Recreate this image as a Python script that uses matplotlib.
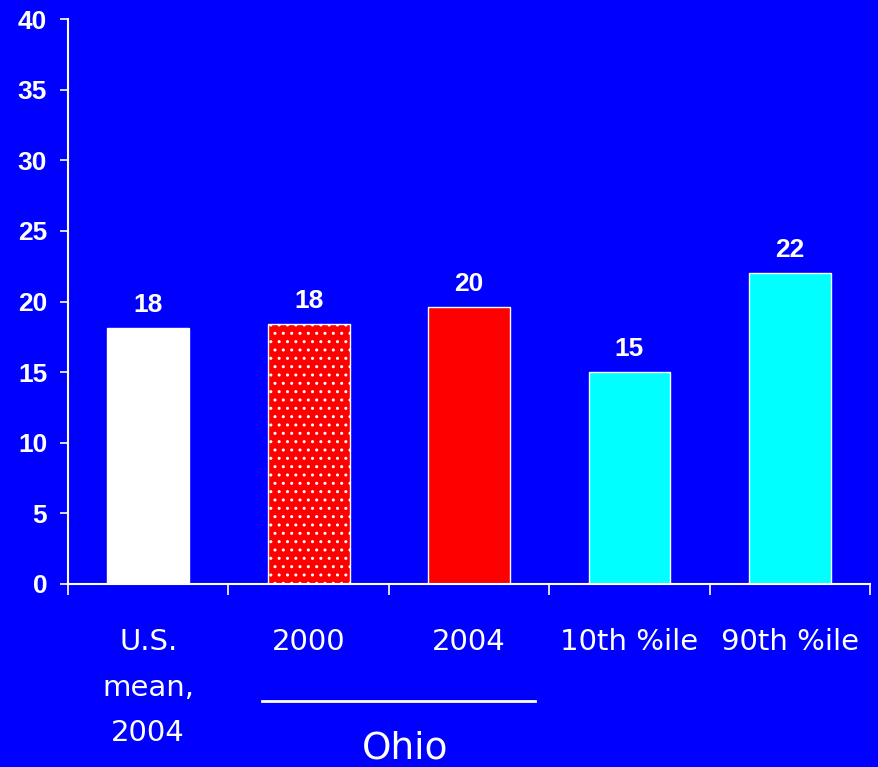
import matplotlib
matplotlib.use("Agg")
import matplotlib.pyplot as plt
from matplotlib.transforms import blended_transform_factory

# Data
categories = ["U.S.\nmean,\n2004", "2000", "2004", "10th %ile", "90th %ile"]
values = [18.1, 18.4, 19.6, 15.0, 22.0]
bar_colors = ["#FFFFFF", "#FF0000", "#FF0000", "#00FFFF", "#00FFFF"]
bar_hatches = [None, "..", None, None, None]
y_ticks = [0, 5, 10, 15, 20, 25, 30, 35, 40]
group_label = "Ohio"

BG = "#0000FF"

fig = plt.figure(figsize=(8.79, 7.67), dpi=100, facecolor=BG)
ax = fig.add_axes([0.0774, 0.2386, 0.9124, 0.7366], facecolor=BG)

x = list(range(len(categories)))
bars = ax.bar(x, values, width=0.51, color=bar_colors, edgecolor="white",
              linewidth=1.0, zorder=2)
for b, h in zip(bars, bar_hatches):
    if h:
        b.set_hatch(h)

# value labels above bars
for xi, v in zip(x, values):
    ax.annotate(f"{v:.0f}", xy=(xi, v), xytext=(0, 11.5), textcoords="offset points",
                ha="center", va="baseline", color="white", fontsize=19,
                fontweight="bold", family="Liberation Sans")

ax.set_xlim(-0.5, len(categories) - 0.5)
ax.set_ylim(0, 40)
ax.set_yticks(y_ticks)
ax.set_yticklabels([str(t) for t in y_ticks], fontsize=19, fontweight="bold",
                   family="Liberation Sans", color="white")

# boundary ticks on x axis, category names under each bar
ax.set_xticks([i - 0.5 for i in range(len(categories) + 1)])
ax.set_xticklabels([])
ax.tick_params(axis="x", which="major", direction="out", length=8, width=1.2,
               color="white")
ax.tick_params(axis="y", direction="out", length=6, width=1.2, color="white",
               pad=9)

for spine in ["top", "right"]:
    ax.spines[spine].set_visible(False)
for spine in ["left", "bottom"]:
    ax.spines[spine].set_color("white")
    ax.spines[spine].set_linewidth(1.5)

for xi, cat in zip(x, categories):
    ax.annotate(cat, xy=(xi, 0), xytext=(0, -32), textcoords="offset points",
                ha="center", va="top", color="white", fontsize=21,
                family="DejaVu Sans", linespacing=1.78, annotation_clip=False)

# Ohio grouping line and label
trans = blended_transform_factory(ax.transData, ax.transAxes)
ax.plot([0.71, 2.41], [-0.207, -0.207], color="white", linewidth=2,
        transform=trans, clip_on=False)
ax.text(1.6, -0.291, group_label, transform=trans, ha="center", va="center",
        color="white", fontsize=27, family="DejaVu Sans")

fig.savefig("out.png", dpi=100, facecolor=BG)
